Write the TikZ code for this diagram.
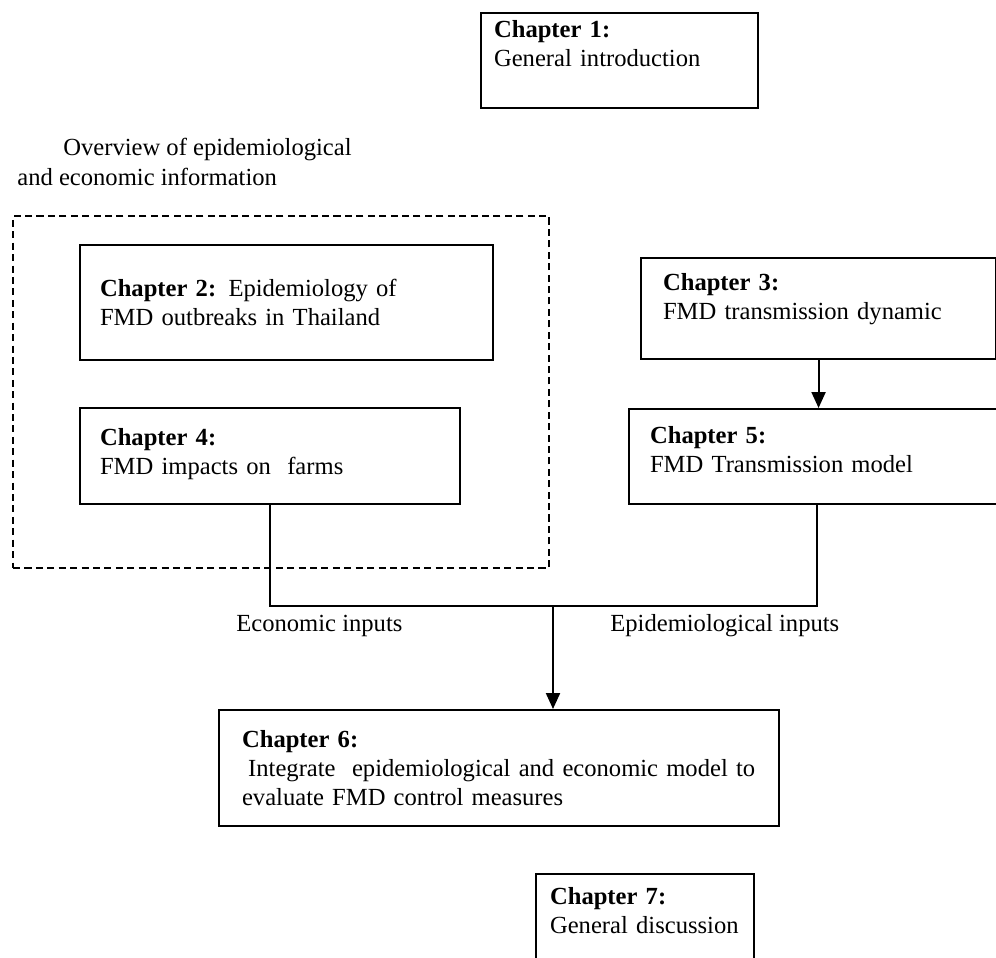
\documentclass[tikz,border=0pt]{standalone}
\usepackage{fontspec}
\setmainfont{Liberation Serif}
\usetikzlibrary{positioning, arrows.meta}

\newcommand{\botgap}[1]{\rule[-#1]{0pt}{#1}}

\tikzset{
  chapbox/.style={draw, line width=1.2pt, anchor=north west, align=left,
    inner xsep=0.4cm, font=\fontsize{14}{16.5}\selectfont},
  groupbox/.style={draw, line width=1.2pt, dash pattern=on 4pt off 2.5pt,
    anchor=north west, inner sep=0pt},
  lbl/.style={anchor=west, align=left, inner sep=0pt, font=\fontsize{14}{16}\selectfont},
  conn/.style={line width=1.2pt},
  arr/.style={line width=1.2pt, -{Triangle[length=0.32cm,width=0.28cm]}}
}

\begin{document}
\begin{tikzpicture}
        \useasboundingbox (0,0) rectangle (19.92,-19.14);
        % chapters
        \node[chapbox, inner xsep=0.26cm, text width=5.02cm, minimum height=1.9cm] (ch1) at (9.60,-0.24)
            {\textbf{Chapter 1:}\\General introduction\botgap{0.68cm}};
        \node[lbl] (ovw) at (0.34,-3.24)
            {\hspace*{0.92cm}Overview of epidemiological\\[1pt]and economic information};
        \node[groupbox, minimum width=10.72cm, minimum height=7.04cm] (grp) at (0.24,-4.30) {};
        \node[chapbox, text width=7.46cm, minimum height=2.30cm] (ch2) at (1.58,-4.88)
            {\textbf{Chapter 2:} Epidemiology of\\FMD outbreaks in Thailand};
        \node[chapbox, text width=6.80cm, minimum height=1.92cm] (ch4) at (1.58,-8.14)
            {\textbf{Chapter 4:}\\FMD impacts on\ \ farms\botgap{0.2cm}};
        \node[chapbox, inner xsep=0.44cm, text width=6.22cm, minimum height=2.02cm] (ch3) at (12.80,-5.14)
            {\textbf{Chapter 3:}\\FMD transmission dynamic\botgap{0.48cm}};
        \node[chapbox, inner xsep=0.42cm, text width=6.66cm, minimum height=1.90cm] (ch5) at (12.56,-8.16)
            {\textbf{Chapter 5:}\\FMD Transmission model\botgap{0.28cm}};
        \node[chapbox, inner xsep=0.46cm, text width=10.28cm, minimum height=2.32cm] (ch6) at (4.36,-14.18)
            {\textbf{Chapter 6:}\\\hspace*{0.25em}Integrate\ \ epidemiological and economic model to\\evaluate FMD control measures};
        \node[chapbox, inner xsep=0.28cm, text width=3.80cm, minimum height=2.0cm] (ch7) at (10.70,-17.46)
            {\textbf{Chapter 7:}\\General discussion\botgap{0.56cm}};
        % inputs
        \coordinate (bus) at (0,-12.12);
        \coordinate (split) at (11.06,-12.12);
        \draw[arr] (ch3.south) -- (ch3.south |- ch5.north);
        \draw[conn] (ch4.south) -- (ch4.south |- bus) -- (ch5.south |- bus) -- (ch5.south);
        \draw[arr] (split) -- (split |- ch6.north);
        \node[lbl] (econ) at (4.72,-12.52) {Economic inputs};
        \node[lbl] (epid) at (12.20,-12.52) {Epidemiological inputs};
    \end{tikzpicture}
\end{document}
